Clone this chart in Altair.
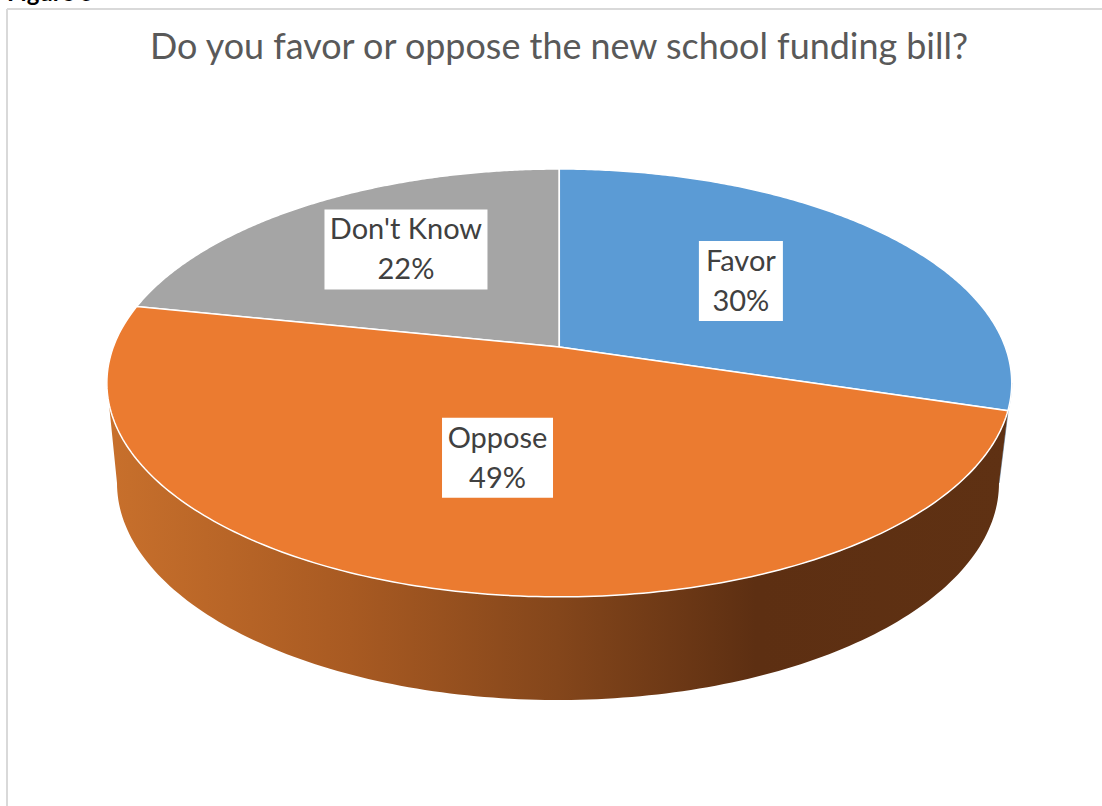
import numpy as np
import pandas as pd
import altair as alt

# Survey responses
categories = ["Favor", "Oppose", "Don't Know"]
percentages = [30, 49, 22]

TITLE = "Do you favor or oppose the new school funding bill?"
CAPTION = "Figure 5"

W, H = 1102, 806
slice_colors = {"Favor": "#5b9bd5", "Oppose": "#eb7b30", "Don't Know": "#a5a5a5"}

# Perspective of the tilted disc: centre, near/far foreshortening and half-width
CX, CY, PERSP, DEPTH, HALF_W = 559.3, 347.0, 0.168, 149.6, 446.0
# Lower rim of the disc, an ellipse below the top face
LOW_CX, LOW_CY, LOW_RX, LOW_RY = 558.0, 483.0, 441.0, 217.0

# Where each label sits along its slice's middle radius, a small nudge, and its box size
label_radius = {"Favor": 0.54, "Oppose": 0.50, "Don't Know": 0.61}
label_nudge = {"Favor": (-2, -2.5), "Oppose": (-2, 1), "Don't Know": (6, -6.5)}
label_box_w = {"Favor": 84, "Oppose": 111, "Don't Know": 163}
LABEL_BOX_H = 80


def project(theta, r=1.0):
    """Clockwise angle from twelve o'clock on the disc -> page position."""
    u = r * np.sin(theta)
    v = -r * np.cos(theta)
    d = 1 - PERSP * v
    return CX + HALF_W * u / d, (DEPTH * v + CY) / d


def low_rim(theta):
    """Angle measured from the right extreme of the lower ellipse, clockwise."""
    return LOW_CX + LOW_RX * np.cos(theta), LOW_CY + LOW_RY * np.sin(theta)


total = sum(percentages)
edges = np.concatenate([[0], np.cumsum(percentages)]) / total * 2 * np.pi
spans = {c: (edges[i], edges[i + 1]) for i, c in enumerate(categories)}

# Disc angles at which the top face reaches its right and left extremes
RIGHT_EXTREME = np.arccos(-PERSP)
LEFT_EXTREME = 2 * np.pi - RIGHT_EXTREME

x_scale = alt.Scale(domain=[0, W], range=[0, W], nice=False, zero=False)
y_scale = alt.Scale(domain=[0, H], range=[0, H], nice=False, zero=False)
X = alt.X("x:Q", scale=x_scale, axis=None)
Y = alt.Y("y:Q", scale=y_scale, axis=None)


def polygon(xs, ys, **mark):
    frame = pd.DataFrame({"x": xs, "y": ys, "i": np.arange(len(xs))})
    return alt.Chart(frame).mark_line(interpolate="linear-closed", **mark).encode(
        x=X, y=Y, order="i:Q"
    )


layers = []

# Frame lines around the chart
frame_color = "#d9d9d9"
layers.append(
    alt.Chart(pd.DataFrame({"x": [7], "y": [9], "y2": [H]}))
    .mark_rule(color=frame_color, strokeWidth=2)
    .encode(x=X, y=Y, y2="y2:Q")
)
layers.append(
    alt.Chart(pd.DataFrame({"x": [7], "x2": [W], "y": [9]}))
    .mark_rule(color=frame_color, strokeWidth=2)
    .encode(x=X, x2="x2:Q", y=Y)
)

# Caption above the frame
layers.append(
    alt.Chart(pd.DataFrame({"x": [7], "y": [0.5], "t": [CAPTION]}))
    .mark_text(align="left", baseline="alphabetic", font="Lato", fontWeight="bold",
               fontSize=24, color="#000000")
    .encode(x=X, y=Y, text="t:N")
)

# Title
layers.append(
    alt.Chart(pd.DataFrame({"x": [559], "y": [59], "t": [TITLE]}))
    .mark_text(align="center", baseline="alphabetic", font="Lato", fontSize=35.9, color="#595959")
    .encode(x=X, y=Y, text="t:N")
)

# Side wall of the Favor slice: a thin sliver on the right
th = np.linspace(RIGHT_EXTREME, spans["Favor"][1], 12)
px, py = project(th)
lx, ly = low_rim(np.array([0.0]))
layers.append(polygon(np.r_[px, lx], np.r_[py, ly], fill="#62809f", stroke="#62809f", strokeWidth=0.5))

# Side wall of the Oppose slice, shaded across its width
th = np.linspace(spans["Oppose"][0], LEFT_EXTREME, 120)
px, py = project(th)
phi = np.linspace(np.pi, 0, 160)
lx, ly = low_rim(phi)
wall_fill = alt.Gradient(
    gradient="linear",
    x1=0, x2=1, y1=0, y2=0,
    stops=[
        alt.GradientStop(color="#c8702c", offset=0.0),
        alt.GradientStop(color="#a85a22", offset=0.27),
        alt.GradientStop(color="#84461b", offset=0.5),
        alt.GradientStop(color="#5d2f12", offset=0.72),
        alt.GradientStop(color="#5f3113", offset=1.0),
    ],
)
layers.append(polygon(np.r_[px, lx], np.r_[py, ly], fill=wall_fill, strokeWidth=0))

# Top face slices
for cat in ["Don't Know", "Favor", "Oppose"]:
    a0, a1 = spans[cat]
    th = np.linspace(a0, a1, 200)
    px, py = project(th)
    layers.append(
        polygon(np.r_[CX, px], np.r_[CY, py], fill=slice_colors[cat], stroke="#ffffff", strokeWidth=1.5)
    )

# Data labels on white boxes
rows = []
for cat, pct in zip(categories, percentages):
    a0, a1 = spans[cat]
    lx, ly = project((a0 + a1) / 2, label_radius[cat])
    lx, ly = lx + label_nudge[cat][0], ly + label_nudge[cat][1]
    rows.append(
        {
            "x": lx - label_box_w[cat] / 2,
            "x2": lx + label_box_w[cat] / 2,
            "y": ly - LABEL_BOX_H / 2,
            "y2": ly + LABEL_BOX_H / 2,
            "cx": lx,
            "name_y": ly - 10,
            "pct_y": ly + 30,
            "name": cat,
            "pct": f"{pct}%",
        }
    )
labels = pd.DataFrame(rows)
layers.append(alt.Chart(labels).mark_rect(color="#ffffff").encode(x=X, x2="x2:Q", y=Y, y2="y2:Q"))
label_text = dict(align="center", baseline="alphabetic", font="Lato", fontSize=29, color="#404040")
layers.append(
    alt.Chart(labels).mark_text(**label_text).encode(
        x=alt.X("cx:Q", scale=x_scale, axis=None), y=alt.Y("name_y:Q", scale=y_scale, axis=None), text="name:N"
    )
)
layers.append(
    alt.Chart(labels).mark_text(**label_text).encode(
        x=alt.X("cx:Q", scale=x_scale, axis=None), y=alt.Y("pct_y:Q", scale=y_scale, axis=None), text="pct:N"
    )
)

chart = (
    alt.layer(*layers)
    .properties(width=W, height=H, padding=0, background="#ffffff", autosize=alt.AutoSizeParams(type="none"))
    .configure_view(strokeWidth=0)
)

chart.save("out.html", embed_options={"renderer": "svg", "actions": False})
